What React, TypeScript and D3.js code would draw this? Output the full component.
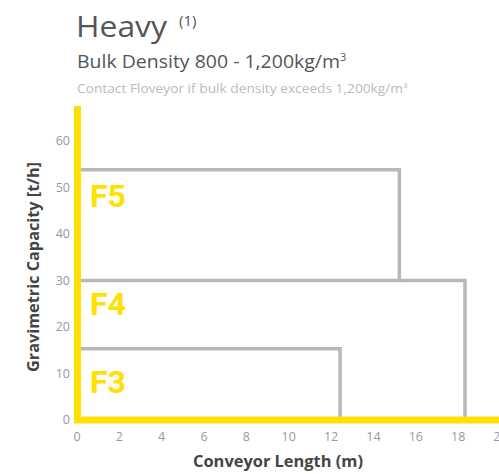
import React from "react";
import * as d3 from "d3";

const series = ["F3", "F4", "F5"];
const maxLength = [12.4, 18.3, 15.2];
const maxCapacity = [15.3, 30, 53.8];
const xTicks = [0, 2, 4, 6, 8, 10, 12, 14, 16, 18, 20];
const yTicks = [0, 10, 20, 30, 40, 50, 60];

const W = 499;
const H = 474;
const YELLOW = "#FFE000";
const FONT = "'Open Sans', Roboto, sans-serif";

export default function App() {
  const x = d3.scaleLinear().domain([0, 20]).range([77.5, 501]);
  const y = d3.scaleLinear().domain([0, 60]).range([420, 141]);
  const labelY = [393, 315, 207];

  // a right edge stops on the top of a lower series that reaches further
  const bottomOf = (i: number) => {
    let b = 0;
    series.forEach((_, j) => {
      if (maxCapacity[j] < maxCapacity[i] && maxLength[j] > maxLength[i]) b = Math.max(b, maxCapacity[j]);
    });
    return b;
  };

  return (
    <svg width={W} height={H} style={{ position: "absolute", left: 0, top: 0, background: "#fff" }} fontFamily={FONT}>
      <text x={76} y={37} fontSize={30} fill="#555" textLength={91} lengthAdjust="spacingAndGlyphs">Heavy</text>
      <text x={179} y={26} fontSize={15} fill="#555">(1)</text>
      <text x={77} y={67.5} fontSize={19} fill="#555">
        <tspan textLength={263} lengthAdjust="spacingAndGlyphs">Bulk Density 800 - 1,200kg/m</tspan>
        <tspan fontSize={11} dy={-7}>3</tspan>
      </text>
      <text x={77} y={93} fontSize={13} fill="#bbb">
        <tspan textLength={326} lengthAdjust="spacingAndGlyphs">Contact Floveyor if bulk density exceeds 1,200kg/m</tspan>
        <tspan fontSize={8} dy={-5}>3</tspan>
      </text>

      {series.map((s, i) => (
        <path
          key={s}
          d={`M${x(0)},${y(maxCapacity[i])}H${x(maxLength[i])}V${y(bottomOf(i))}`}
          fill="none"
          stroke="#b8b8b8"
          strokeWidth={3.5}
        />
      ))}

      {series.map((s, i) => (
        <text key={s} x={90} y={labelY[i]} fontSize={32} fontWeight="bold" fontFamily="Roboto, sans-serif" fill={YELLOW}>{s}</text>
      ))}

      <line x1={x(0)} x2={x(0)} y1={106} y2={423} stroke={YELLOW} strokeWidth={7} />
      <line x1={74} x2={W} y1={y(0)} y2={y(0)} stroke={YELLOW} strokeWidth={7} />

      {yTicks.map((t) => (
        <text key={t} x={70} y={y(t)} dy="0.35em" textAnchor="end" fontSize={12.5} fill="#999">{t}</text>
      ))}
      {xTicks.map((t) => (
        <text key={t} x={x(t) - 0.5} y={441} textAnchor="middle" fontSize={12.5} fill="#999">{t}</text>
      ))}

      <text x={278} y={467} textAnchor="middle" fontSize={16} fontWeight="bold" fill="#444" textLength={170} lengthAdjust="spacingAndGlyphs">Conveyor Length (m)</text>
      <text transform={`translate(39,267) rotate(-90)`} textAnchor="middle" fontSize={16} fontWeight="bold" fill="#444" textLength={210} lengthAdjust="spacingAndGlyphs">Gravimetric Capacity [t/h]</text>
    </svg>
  );
}
